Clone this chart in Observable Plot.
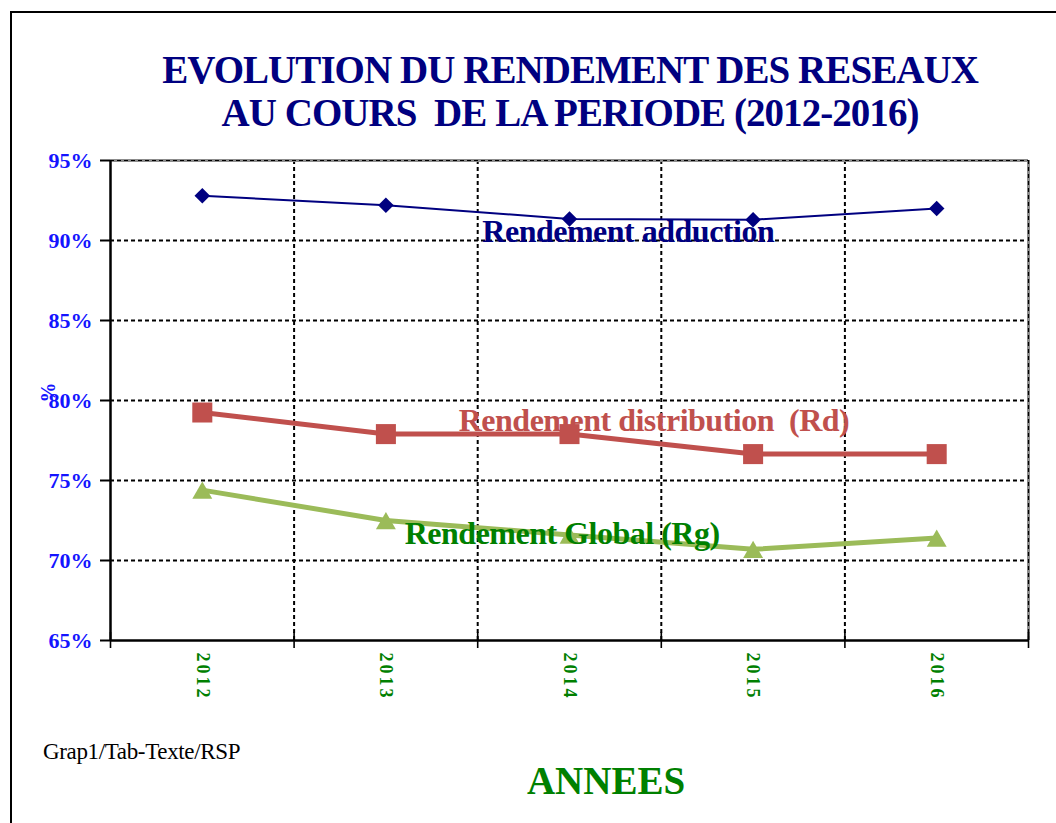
<!DOCTYPE html>
<html>
<head>
<meta charset="utf-8">
<script src="https://cdn.jsdelivr.net/npm/d3@7"></script>
<script src="https://cdn.jsdelivr.net/npm/@observablehq/plot@0.6"></script>
<style>
  html, body { margin: 0; padding: 0; background: #fff; }
  #page { position: relative; width: 1056px; height: 823px; overflow: hidden; font-family: "Liberation Serif", "Times New Roman", serif; }
  #frame { position: absolute; left: 10px; top: 11px; width: 1100px; height: 900px; border-left: 2px solid #000; border-top: 2px solid #000; }
  #title { position: absolute; left: 0; top: 48px; width: 1140px; text-align: center; color: #000080; font-weight: bold; font-size: 39px; line-height: 43px; letter-spacing: -0.95px; white-space: pre; }
  #chart { position: absolute; left: 0; top: 140px; }
  #caption { position: absolute; left: 43px; top: 739px; font-size: 23px; letter-spacing: -0.35px; color: #000; white-space: pre; }
  #xlabel { position: absolute; left: 306px; width: 600px; top: 759px; text-align: center; color: #008000; font-weight: bold; font-size: 39px; line-height: 44px; }
  g[aria-label="x-axis tick label"] text { letter-spacing: 3px; }
  svg text { white-space: pre; }
</style>
</head>
<body>
<div id="page">
  <div id="frame"></div>
  <div id="title">EVOLUTION DU RENDEMENT DES RESEAUX
AU COURS  DE LA PERIODE (2012-2016)</div>
  <div id="chart"></div>
  <div id="caption">Grap1/Tab-Texte/RSP</div>
  <div id="xlabel">ANNEES</div>
</div>
<script>
// ---- data ----
const years = [2012, 2013, 2014, 2015, 2016];
const adduction = [0.928, 0.922, 0.9135, 0.913, 0.920];
const distribution = [0.7925, 0.779, 0.779, 0.7665, 0.7665];
const globalRg = [0.744, 0.725, 0.716, 0.707, 0.714];
const yTicks = [0.65, 0.70, 0.75, 0.80, 0.85, 0.90, 0.95];
const yLabelText = "%";
const seriesLabels = ["Rendement adduction", "Rendement distribution  (Rd)", "Rendement Global (Rg)"];
const labelX = [2014.32, 2014.46, 2013.96];
const labelY = [0.9056, 0.7875, 0.7169];
const colors = ["#000080", "#c0504d", "#9bbb59"];
const labelColors = ["#000080", "#c0504d", "#008000"];

// ---- derived tables ----
const rows = (vals) => years.map((yr, i) => ({year: yr, v: vals[i]}));
const rA = rows(adduction), rD = rows(distribution), rG = rows(globalRg);
const bounds = [years[0] - 0.5, ...years.map(y => y + 0.5)];
const innerBounds = bounds.slice(1, -1);
const gridY = yTicks.slice(1, -1);
const labels = seriesLabels.map((t, i) => ({text: t, x: labelX[i], y: labelY[i], color: labelColors[i]}));

const font = "Liberation Serif";

const chart = Plot.plot({
  width: 1056,
  height: 580,
  marginTop: 20,
  marginBottom: 80,
  marginLeft: 110,
  marginRight: 28,
  style: {fontFamily: font, background: "transparent"},
  x: {type: "linear", domain: [bounds[0], bounds[bounds.length - 1]]},
  y: {domain: [yTicks[0], yTicks[yTicks.length - 1]]},
  marks: [
    // grid
    Plot.ruleY(gridY, {stroke: "#000", strokeWidth: 2, strokeDasharray: "4,3"}),
    Plot.ruleX(innerBounds, {stroke: "#000", strokeWidth: 2, strokeDasharray: "4,3"}),
    // plot-area border: top / right gray, dashed over
    Plot.ruleY([yTicks[yTicks.length - 1]], {stroke: "#8c8c8c", strokeWidth: 3}),
    Plot.ruleX([bounds[bounds.length - 1]], {stroke: "#8c8c8c", strokeWidth: 3}),
    Plot.ruleY([yTicks[yTicks.length - 1]], {stroke: "#000", strokeWidth: 1.2, strokeDasharray: "4,3"}),
    Plot.ruleX([bounds[bounds.length - 1]], {stroke: "#000", strokeWidth: 1.2, strokeDasharray: "4,3"}),
    // axes
    Plot.axisY(yTicks, {
      tickFormat: d3.format(".0%"), tickSize: 10, tickPadding: 8, label: null,
      stroke: "#000", strokeWidth: 2, fill: "#1414ff",
      fontSize: 22, fontWeight: "bold", fontFamily: font
    }),
    Plot.axisX(years, {
      tickFormat: d => String(d), tickSize: 0, tickPadding: 12, tickRotate: 90, label: null,
      fill: "#008000", fontSize: 18, fontWeight: "bold", fontFamily: font
    }),
    Plot.ruleX(bounds, {y1: 0.645, y2: 0.655, stroke: "#000", strokeWidth: 1.6}),
    Plot.ruleX([bounds[0]], {stroke: "#000", strokeWidth: 2.5}),
    Plot.ruleY([yTicks[0]], {stroke: "#000", strokeWidth: 2.5}),
    Plot.text([yLabelText], {frameAnchor: "left", dx: -62, dy: 2, rotate: -90, fill: "#1414ff", fontSize: 20, fontWeight: "bold", fontFamily: font}),
    // series
    Plot.line(rA, {x: "year", y: "v", stroke: colors[0], strokeWidth: 2}),
    Plot.dot(rA, {x: "year", y: "v", symbol: "diamond2", r: 7, fill: colors[0], stroke: "none"}),
    Plot.line(rD, {x: "year", y: "v", stroke: colors[1], strokeWidth: 5}),
    Plot.dot(rD, {x: "year", y: "v", symbol: "square", r: 11.3, fill: colors[1], stroke: "none"}),
    Plot.line(rG, {x: "year", y: "v", stroke: colors[2], strokeWidth: 5}),
    Plot.dot(rG, {x: "year", y: "v", symbol: "triangle", r: 7.4, dy: 3, fill: colors[2], stroke: "none"}),
    // series labels
    Plot.text(labels, {x: "x", y: "y", text: "text", fill: "color", fontSize: 32, fontWeight: "bold", fontFamily: font, textAnchor: "middle", lineAnchor: "middle"})
  ]
});
document.getElementById("chart").appendChild(chart);
document.querySelectorAll('g[aria-label="text"] text').forEach(t => { if (t.textContent.startsWith("Rendement")) t.style.letterSpacing = "-0.5px"; });
</script>
</body>
</html>
